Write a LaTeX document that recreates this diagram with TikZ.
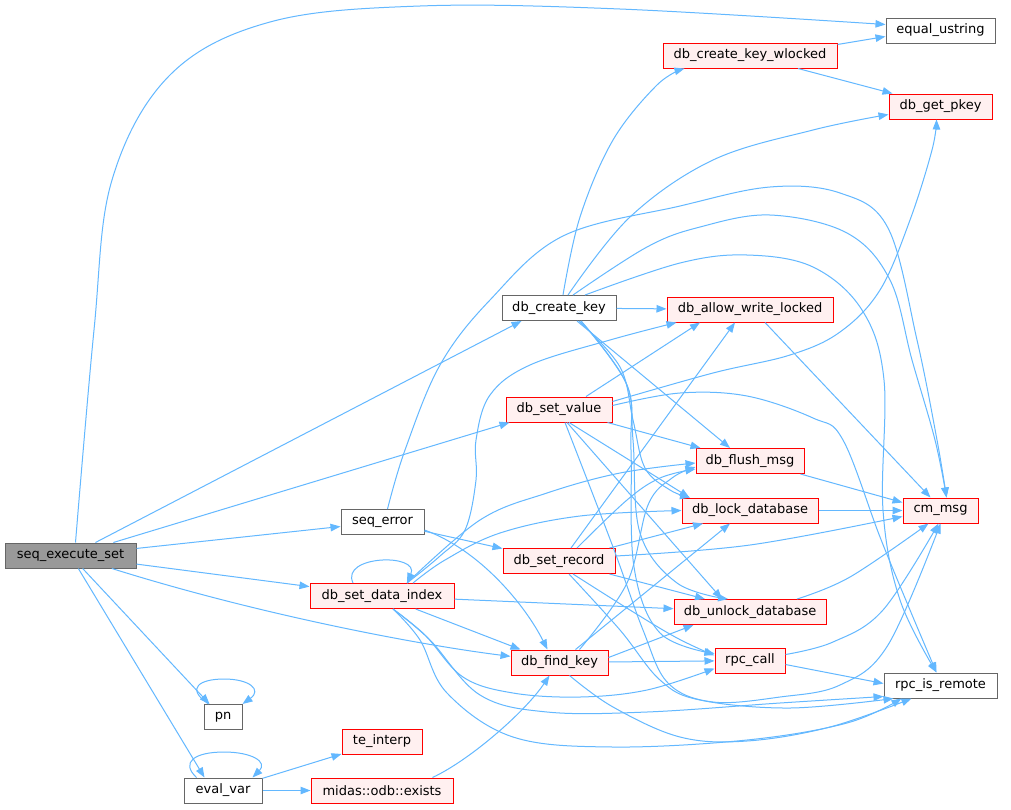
\documentclass[tikz,border=0pt]{standalone}
\usepackage{fontspec}
\setmainfont{DejaVu Sans}
\usetikzlibrary{arrows.meta}
\definecolor{edgec}{HTML}{63B8FF}
\definecolor{redfill}{HTML}{FFF0F0}
\definecolor{grayb}{HTML}{666666}
\definecolor{selfill}{HTML}{999999}
\begin{document}
\begin{tikzpicture}[x=1pt,y=-1pt,
  font=\fontsize{13}{15}\selectfont,
  box/.style={draw, line width=1pt, minimum height=25pt, inner sep=0pt, fill=white},
  rbox/.style={box, draw=red, fill=redfill},
  gbox/.style={box, draw=grayb},
  sbox/.style={box, draw=grayb, fill=selfill},
  e/.style={draw=edgec, line width=1pt, -{Triangle[length=10pt,width=7.5pt]}},
  sm/.style={smooth, tension=0.6}]
\useasboundingbox[fill=white] (0,0) rectangle (1011,809);

% nodes
\node[sbox, minimum width=131pt] (S) at (70.5,555.5) {seq\_execute\_set};
\node[gbox, minimum width=38pt] (PN) at (223,717) {pn};
\node[gbox, minimum width=78pt] (EV) at (223,790.5) {eval\_var};
\node[rbox, minimum width=80pt] (TI) at (382,741.5) {te\_interp};
\node[rbox, minimum width=142pt] (EX) at (382,790.5) {midas::odb::exists};
\node[gbox, minimum width=83pt] (SE) at (382.5,522) {seq\_error};
\node[rbox, minimum width=144pt] (DI) at (382,596) {db\_set\_data\_index};
\node[gbox, minimum width=114pt] (CK) at (559,308) {db\_create\_key};
\node[rbox, minimum width=106pt] (SV) at (559,409.5) {db\_set\_value};
\node[rbox, minimum width=112pt] (SR) at (559,561) {db\_set\_record};
\node[rbox, minimum width=97pt] (FK) at (559.5,662.5) {db\_find\_key};
\node[rbox, minimum width=174pt] (CKW) at (750,55.5) {db\_create\_key\_wlocked};
\node[rbox, minimum width=166pt] (AWL) at (750,309.5) {db\_allow\_write\_locked};
\node[rbox, minimum width=108pt] (FM) at (750,461) {db\_flush\_msg};
\node[rbox, minimum width=136pt] (LD) at (750,510.5) {db\_lock\_database};
\node[rbox, minimum width=152pt] (UD) at (750,612) {db\_unlock\_database};
\node[rbox, minimum width=70pt] (RC) at (750,660.5) {rpc\_call};
\node[gbox, minimum width=109pt] (EQ) at (940.5,30.5) {equal\_ustring};
\node[rbox, minimum width=103pt] (GP) at (940.5,106.5) {db\_get\_pkey};
\node[rbox, minimum width=75pt] (CM) at (940.5,510.5) {cm\_msg};
\node[gbox, minimum width=113pt] (RR) at (940.5,685.5) {rpc\_is\_remote};

% seq_execute_set
\draw[e] plot[sm] coordinates {([xshift=5pt]S.north) (94,330) (112,180) (170,75) (270,22) (420,6) (620,9) ([yshift=6pt]EQ.west)};
\draw[e] (S) -- ([xshift=20pt]CK.south west);
\draw[e] (S) -- ([xshift=4pt]SV.south west);
\draw[e] (S) -- (SE);
\draw[e] (S) -- (DI);
\draw[e] (S) .. controls (260,615) and (420,645) .. (FK);
\draw[e] (S) -- ([xshift=6pt]PN.north west);
\draw[e] (S) -- ([xshift=21pt]EV.north west);

% pn, eval_var
\draw[e] ([xshift=5pt]PN.north west) .. controls (185,688) and (200,679) .. (224,679) .. controls (250,679) and (262,690) .. (PN.north east);
\draw[e] ([xshift=13pt]EV.north west) .. controls (180,762) and (195,752) .. (224,752) .. controls (252,752) and (268,762) .. ([xshift=-10pt]EV.north east);
\draw[e] (EV) -- (TI);
\draw[e] (EV) -- (EX);
\draw[e] ([xshift=-21pt]EX.north east) .. controls (470,760) and (525,712) .. ([xshift=-10pt]FK.south);

% seq_error
\draw[e] plot[sm] coordinates {([xshift=5pt]SE.north) (405,450) (440,365) (490,300) (563,236) (680,206) (770,187) (840,193) (888,228) (917,340) (937,440) ([xshift=6pt]CM.north)};
\draw[e] (SE) -- (SR);
\draw[e] ([yshift=-8pt]SE.east) .. controls (480,550) and (525,605) .. ([xshift=-12pt]FK.north);

% db_set_data_index
\draw[e] ([xshift=-29pt]DI.north) .. controls (340,555) and (420,553) .. ([xshift=25pt]DI.north);
\draw[e] plot[sm] coordinates {([xshift=25pt]DI.north) (440,556) (465,530) (476,480) (476,440) (490,395) (530,365) (610,340) ([xshift=10pt]AWL.south west)};
\draw[e] plot[sm] coordinates {([xshift=25pt]DI.north) (480,520) (547,493) (620,473) ([yshift=-2pt]FM.west)};
\draw[e] plot[sm] coordinates {([xshift=31pt]DI.north) (445,560) (500,533) (580,516) (LD.west)};
\draw[e] (DI) -- (UD);
\draw[e] (DI) -- ([xshift=10pt]FK.north west);
\draw[e] plot[sm] coordinates {([xshift=11pt]DI.south) (425,635) (463,677) (513,693) (580,697) (647,690) ([yshift=5pt]RC.south west)};
\draw[e] plot[sm] coordinates {([xshift=11pt]DI.south) (430,640) (480,695) (547,712) (647,712) (780,703) ([yshift=2pt]RR.south west)};
\draw[e] plot[sm] coordinates {([xshift=11pt]DI.south) (420,640) (447,693) (513,737) (613,747) (747,740) (847,723) ([xshift=18pt]RR.south west)};

% db_create_key
\draw[e] plot[sm] coordinates {([xshift=4pt]CK.north) (580,217) (613,140) (657,85) ([xshift=22pt]CKW.south west)};
\draw[e] plot[sm] coordinates {([xshift=9pt]CK.north) (630,217) (713,160) (813,130) ([yshift=-8pt]GP.west)};
\draw[e] plot[sm] coordinates {([xshift=14pt]CK.north) (647,247) (700,227) (770,215) (847,233) (890,280) (912,360) (935,440) ([xshift=6pt]CM.north)};
\draw[e] plot[sm] coordinates {([xshift=26pt]CK.north) (680,263) (747,255) (813,267) (862,310) (884,380) (883,510) (900,600) ([xshift=-4pt]RR.north)};
\draw[e] (CK) -- (AWL);
\draw[e] ([xshift=18pt]CK.south) -- ([xshift=-20pt]FM.north);
\draw[e] plot[sm] coordinates {([xshift=20pt]CK.south) (620,367) (633,420) (645,468) (670,490) ([xshift=-60pt]LD.north)};
\draw[e] plot[sm] coordinates {([xshift=22pt]CK.south) (626,383) (633,440) (640,533) (677,583) ([xshift=-22pt]UD.north)};
\draw[e] plot[sm] coordinates {([xshift=22pt]CK.south) (627,385) (631,450) (634,567) (660,633) ([yshift=7pt]RC.west)};

% db_set_value
\draw[e] ([xshift=27pt]SV.north) -- ([xshift=-50pt]AWL.south);
\draw[e] plot[sm] coordinates {([yshift=8pt]SV.east) (713,373) (790,355) (840,332) (880,290) (910,220) (932,150) ([xshift=-4pt]GP.south)};
\draw[e] plot[sm] coordinates {([yshift=4pt]SV.east) (680,393) (747,396) (813,418) (843,440) (880,537) (910,610) ([xshift=-4pt]RR.north)};
\draw[e] ([xshift=-5pt]SV.south east) -- ([xshift=5pt]FM.north west);
\draw[e] ([xshift=10pt]SV.south) -- ([xshift=8pt]LD.north west);
\draw[e] ([xshift=8pt]SV.south) -- ([xshift=-28pt]UD.north);
\draw[e] plot[sm] coordinates {([xshift=6pt]SV.south) (613,547) (643,630) (668,683) (713,702) (780,697) (840,685) (888,645) (CM.south)};

% db_set_record
\draw[e] ([xshift=12pt]SR.north) -- ([xshift=-15pt]AWL.south);
\draw[e] plot[sm] coordinates {([xshift=18pt]SR.north) (627,500) (660,478) ([yshift=-8pt]FM.west)};
\draw[e] ([xshift=-6pt]SR.north east) -- ([xshift=-47pt]LD.south);
\draw[e] plot[sm] coordinates {([yshift=5pt]SR.east) (750,545) ([yshift=-6pt]CM.west)};
\draw[e] ([xshift=-6pt]SR.south east) -- ([xshift=-45pt]UD.north);
\draw[e] plot[sm] coordinates {([xshift=14pt]SR.south) (630,610) (677,638) ([yshift=5pt]RC.west)};
\draw[e] plot[sm] coordinates {([xshift=10pt]SR.south) (620,630) (660,680) (700,700) (790,708) ([xshift=10pt]RR.south west)};

% db_find_key
\draw[e] ([xshift=16pt]FK.north) -- ([xshift=-20pt]LD.south);
\draw[e] plot[sm] coordinates {([xshift=20pt]FK.north) (627,583) (648,505) (672,478) ([yshift=-6pt]FM.west)};
\draw[e] ([yshift=5pt]FK.east) -- ([xshift=20pt]UD.south west);
\draw[e] (FK) -- (RC);
\draw[e] plot[sm] coordinates {([xshift=10pt]FK.south) (613,707) (680,737) (747,741) (830,727) ([xshift=28pt]RR.south west)};

% right side
\draw[e] ([yshift=11pt]CKW.east) -- ([yshift=-6pt]EQ.west);
\draw[e] ([xshift=48pt]CKW.south) -- ([xshift=-48pt]GP.north);
\draw[e] ([xshift=15pt]AWL.south) -- ([xshift=-10pt]CM.north);
\draw[e] ([xshift=-4pt]FM.south east) -- ([yshift=8pt]CM.west);
\draw[e] (LD) -- (CM);
\draw[e] plot[sm] coordinates {([xshift=47pt]UD.north) (850,577) ([xshift=-12pt]CM.south)};
\draw[e] plot[sm] coordinates {([yshift=6pt]RC.east) (833,642) (883,610) ([xshift=-2pt]CM.south)};
\draw[e] ([yshift=-4pt]RC.east) -- ([yshift=2pt]RR.west);
\end{tikzpicture}
\end{document}
